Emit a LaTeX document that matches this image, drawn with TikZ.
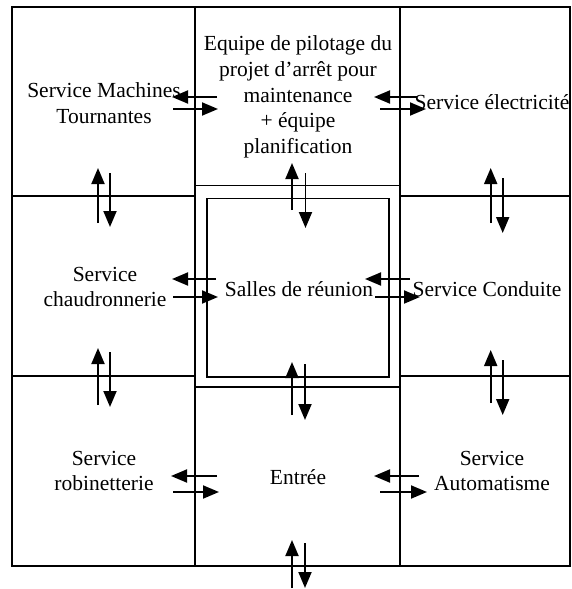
\documentclass[tikz,border=0pt]{standalone}
\usepackage{fontspec}
\setmainfont{Liberation Serif}
\usetikzlibrary{arrows.meta}
\begin{document}
\begin{tikzpicture}[x=1pt,y=-1pt,
  wall/.style={line width=1.9pt},
  arr/.style={line width=1.9pt,-{Triangle[length=16pt,width=13pt]}},
  lbl/.style={align=center,inner sep=0pt,font=\fontsize{21.5}{25.8}\selectfont}]
\useasboundingbox (0,0) rectangle (572,589);
% walls
\draw[wall] (12,7) rectangle (570,566);
\draw[wall] (195,7) -- (195,566);
\draw[wall] (400,7) -- (400,566);
\draw[wall] (12,196) -- (195,196);
\draw[wall] (12,376) -- (195,376);
\draw[wall] (400,196) -- (570,196);
\draw[wall] (400,376) -- (570,376);
\draw[wall] (195,185.5) -- (400,185.5);
\draw[wall] (195,386.7) -- (400,386.7);
\draw[wall] (207.3,198.5) rectangle (389.3,377.3);
% labels
\node[lbl] (mt) at (104,103) {Service Machines\\Tournantes};
\node[lbl] (eq) at (298,97) {Equipe de pilotage du\\projet d’arrêt pour\\maintenance\\+ équipe\\planification};
\node[lbl] (el) at (492,102) {Service électricité};
\node[lbl] (ch) at (105,287) {Service\\chaudronnerie};
\node[lbl] (sr) at (299,289) {Salles de réunion};
\node[lbl] (co) at (487,289) {Service Conduite};
\node[lbl] (ro) at (104,471) {Service\\robinetterie};
\node[lbl] (en) at (298,477) {Entrée};
\node[lbl] (au) at (492,471) {Service\\Automatisme};
% arrows
\foreach \n/\xa/\ya/\xb/\yb in {
  h1l/217/97/172/97, h1r/173/109/218/109,
  h2l/417/97/374/97, h2r/380/109/426/109,
  h3l/216/279/172/279, h3r/173/297/218/297,
  h4l/410/279/365/279, h4r/375/297/420/297,
  h5l/217/476/171/476, h5r/173/492/219/492,
  h6l/419/476/374/476, h6r/380/492/427/492,
  v1u/98/223/98/168, v1d/110/173/110/227,
  v2u/98/405/98/348, v2d/110/352/110/407,
  v3u/292/210/292/163, v3d/305.5/173/305.5/228,
  v4u/292/415/292/362, v4d/305/364/305/420,
  v5u/292/588/292/540, v5d/305/543/305/588,
  v6u/490.7/223/490.7/168, v6d/502.7/178/502.7/233,
  v7u/490.7/403/490.7/350, v7d/502.7/360/502.7/415}{
  \coordinate (s\n) at (\xa,\ya);
  \coordinate (t\n) at (\xb,\yb);
  \draw[arr] (s\n) -- (t\n);
}
\end{tikzpicture}
\end{document}
